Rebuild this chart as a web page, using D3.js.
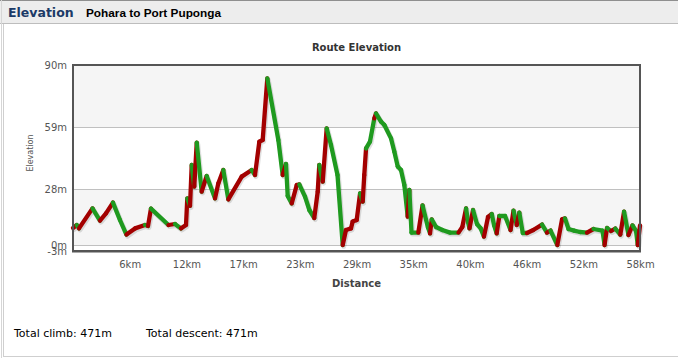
<!DOCTYPE html>
<html>
<head>
<meta charset="utf-8">
<script src="https://cdn.jsdelivr.net/npm/d3@7"></script>
<style>
  html, body { margin: 0; padding: 0; background: #fff; }
  svg { display: block; }
</style>
</head>
<body>
<svg id="chart" width="678" height="358"></svg>
<script>
// ---- data ----
const distKm = [0, 0.38, 0.61, 1.98, 2.74, 3.35, 4.06, 4.77, 5.43, 6.30, 7.31, 7.62, 7.92, 9.70, 10.36, 10.97,
  11.48, 11.61, 11.89, 12.06, 12.32, 12.57, 13.07, 13.58, 14.43, 14.76, 15.27, 15.78, 17.14, 18.15, 18.49,
  18.93, 19.27, 19.74, 20.86, 21.30, 21.64, 21.81, 22.22, 22.73, 22.99, 23.57, 24.01, 24.51, 24.86, 25.02,
  25.37, 25.77, 26.21, 26.87, 27.40, 27.73, 28.24, 28.41, 28.82, 29.16, 29.43, 29.59, 29.77, 30.17, 30.61,
  30.78, 31.29, 31.63, 32.31, 32.64, 32.99, 33.32, 33.66, 34.00, 34.17, 34.39, 35.08, 35.51, 36.06, 36.27,
  36.44, 36.88, 37.52, 38.30, 39.16, 39.55, 39.93, 40.13, 40.28, 40.64, 41.04, 41.42, 41.75, 42.16, 42.54,
  42.77, 43.04, 43.31, 43.89, 44.45, 44.75, 45.08, 45.34, 45.69, 46.12, 46.76, 47.65, 48.15, 48.51, 49.20,
  49.68, 49.98, 50.34, 50.90, 51.51, 52.22, 52.88, 53.79, 54.00, 54.25, 54.66, 55.09, 55.60, 55.98, 56.43,
  56.84, 57.20, 57.37, 57.60];
const elevM = [8.5, 10, 8.3, 18.3, 12.2, 15.8, 21.2, 12.5, 5.2, 8.3, 10, 9.5, 18.2, 10, 10.5, 8.3,
  10, 23.3, 19.6, 40, 29.2, 51.2, 26.7, 34.5, 23.3, 30.8, 37.5, 22.8, 34.2, 37.5, 35,
  51.7, 52.5, 83.3, 52.5, 35, 40.5, 24.5, 20.8, 30, 30.3, 24.2, 17.5, 13.5, 26.7, 40,
  31.7, 58.3, 50, 35, 0, 7.5, 8.3, 11.7, 12.5, 25.8, 21.7, 35, 48.3, 51.7, 63.3,
  65.8, 61.7, 60, 53.3, 46.7, 39.2, 37.5, 30, 14.2, 27.5, 6.2, 6.2, 19.8, 8.8, 5.8,
  12.8, 9, 7.5, 6.2, 6.2, 9, 18.3, 11.5, 8.3, 17.5, 10.5, 8.3, 4.2, 14, 15.5,
  10, 5.8, 14.5, 14.5, 7.5, 17.2, 10, 16.2, 6, 6, 7.5, 10.2, 6.2, 7.2, 0,
  12.8, 13.3, 8, 7.2, 6.5, 6.2, 8, 7.2, 0, 8.5, 7, 8.2, 5.2, 16.7, 5,
  9.8, 7, 0, 9.8];
// segment classification seen in the picture where it differs from the plain up/down rule
const descentSegments = [21, 45, 58, 59, 76, 82, 85, 93, 98, 117, 119];
const climbSegments = [46, 75, 88, 92, 114, 123];
const yTickValues = [-3, 0, 28, 59, 90];
const xTickValues = [5.76, 11.52, 17.28, 23.04, 28.8, 34.56, 40.32, 46.08, 51.84, 57.6];
const xTickLabels = ["6km", "12km", "17km", "23km", "29km", "35km", "40km", "46km", "52km", "58km"];
const totalClimb = 471, totalDescent = 471;
const headerTitle = "Elevation", routeName = "Pohara to Port Puponga";

// ---- layout ----
const svg = d3.select("#chart");
const L = 73, R = 640, T = 65, B = 251;
const x = d3.scaleLinear().domain([0, 57.6]).range([L, R]);
const y = d3.scaleLinear().domain([-3, 90]).range([B, T]);
const FONT = "'DejaVu Sans', Verdana, sans-serif";

// panel chrome
svg.append("rect").attr("x", 3.5).attr("y", 22.5).attr("width", 700).attr("height", 334)
  .attr("fill", "#fff").attr("stroke", "#cfcfcf");
svg.append("rect").attr("x", 0).attr("y", 0).attr("width", 678).attr("height", 23).attr("fill", "#ededed");
svg.append("line").attr("x1", 0).attr("x2", 678).attr("y1", 0.5).attr("y2", 0.5).attr("stroke", "#8f8f8f");
svg.append("line").attr("x1", 0).attr("x2", 678).attr("y1", 23.5).attr("y2", 23.5).attr("stroke", "#bdbdbd");
svg.append("line").attr("x1", 1.5).attr("x2", 1.5).attr("y1", 0).attr("y2", 358).attr("stroke", "#d6d6d6");

svg.append("text").attr("x", 8).attr("y", 17).attr("fill", "#1b3a67")
  .attr("font-family", FONT).attr("font-weight", "bold").attr("font-size", "12.5px").text(headerTitle);
svg.append("text").attr("x", 86).attr("y", 17).attr("fill", "#000")
  .attr("font-family", "'Liberation Sans', Arial, sans-serif").attr("font-weight", "bold").attr("font-size", "11.8px").text(routeName);

// plot bands
const bands = [[90, 59, "#f5f5f5"], [59, 28, "#ffffff"], [28, 0, "#f5f5f5"], [0, -3, "#ffffff"]];
svg.selectAll("rect.band").data(bands).join("rect").attr("class", "band")
  .attr("x", L).attr("width", R - L)
  .attr("y", d => y(d[0])).attr("height", d => y(d[1]) - y(d[0]))
  .attr("fill", d => d[2]);

// grid lines
svg.selectAll("line.grid").data(yTickValues.filter(v => v > -3 && v < 90)).join("line").attr("class", "grid")
  .attr("x1", L).attr("x2", R).attr("y1", d => Math.round(y(d)) + 0.5).attr("y2", d => Math.round(y(d)) + 0.5)
  .attr("stroke", "#c0c0c0");

// y axis labels
const yAxis = d3.axisLeft(y).tickValues(yTickValues).tickSize(0).tickPadding(6).tickFormat(d => d + "m");
const gy = svg.append("g").attr("transform", `translate(${L},0)`).call(yAxis);
gy.select(".domain").remove();
gy.selectAll("text").attr("font-family", FONT).attr("font-size", "10px").attr("fill", "#555");

// x axis labels
const xAxis = d3.axisBottom(x).tickValues(xTickValues).tickSize(0).tickPadding(10)
  .tickFormat((d, i) => xTickLabels[i]);
const gx = svg.append("g").attr("transform", `translate(0,${B})`).call(xAxis);
gx.select(".domain").remove();
gx.selectAll("text").attr("font-family", FONT).attr("font-size", "10px").attr("fill", "#555");

// line segments
const pts = distKm.map((d, i) => [x(d), y(elevM[i])]);
const segs = d3.pairs(pts).map(([a, b], i) => {
  let up = elevM[i + 1] > elevM[i];
  if (descentSegments.includes(i)) up = false;
  if (climbSegments.includes(i)) up = true;
  return {a, b, up};
});
const plot = svg.append("g");
plot.append("path").attr("d", d3.line()(pts)).attr("fill", "none")
  .attr("stroke", "rgba(0,0,0,0.12)").attr("stroke-width", 5).attr("transform", "translate(1,1.5)")
  .attr("stroke-linejoin", "round").attr("stroke-linecap", "round");
plot.selectAll("line.seg").data(segs).join("line").attr("class", "seg")
  .attr("x1", d => d.a[0]).attr("y1", d => d.a[1]).attr("x2", d => d.b[0]).attr("y2", d => d.b[1])
  .attr("stroke", d => d.up ? "#a30000" : "#1f9a1f")
  .attr("stroke-width", 4.3).attr("stroke-linecap", "round");

// frame
svg.append("rect").attr("x", L).attr("y", T).attr("width", R - L).attr("height", B - T)
  .attr("fill", "none").attr("stroke", "#555").attr("stroke-width", 2);
svg.append("line").attr("x1", L - 1).attr("x2", R + 1).attr("y1", B + 0.5).attr("y2", B + 0.5)
  .attr("stroke", "#555").attr("stroke-width", 2);

// titles
svg.append("text").attr("x", (L + R) / 2).attr("y", 51).attr("text-anchor", "middle")
  .attr("font-family", FONT).attr("font-weight", "bold").attr("font-size", "10px").attr("fill", "#333")
  .text("Route Elevation");
svg.append("text").attr("x", (L + R) / 2).attr("y", 287).attr("text-anchor", "middle")
  .attr("font-family", FONT).attr("font-weight", "bold").attr("font-size", "10px").attr("fill", "#444")
  .text("Distance");
svg.append("text").attr("transform", `translate(33,153) rotate(-90)`).attr("text-anchor", "middle")
  .attr("font-family", FONT).attr("font-size", "8px").attr("fill", "#555").text("Elevation");

// footer
svg.append("text").attr("x", 14).attr("y", 337).attr("font-family", FONT).attr("font-size", "11px")
  .attr("fill", "#000").text(`Total climb: ${totalClimb}m`);
svg.append("text").attr("x", 146).attr("y", 337).attr("font-family", FONT).attr("font-size", "11px")
  .attr("fill", "#000").text(`Total descent: ${totalDescent}m`);
</script>
</body>
</html>
